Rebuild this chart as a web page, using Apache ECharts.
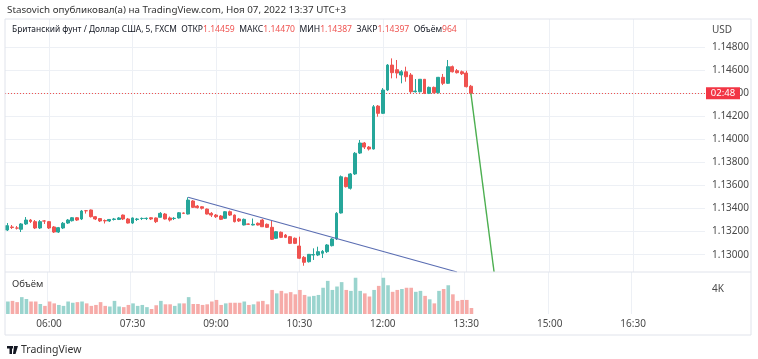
<!DOCTYPE html>
<html><head><meta charset="utf-8">
<script src="https://cdn.jsdelivr.net/npm/echarts@6/dist/echarts.min.js"></script>
<style>html,body{margin:0;padding:0;background:#fff}#c{width:758px;height:359px}</style>
</head><body><div id="c"></div>
<script>
// ---- data ----
const startTime = '05:15';          // first 5-minute bar
const barCount = 151;               // bars that fit across the price pane
const timeTickLabels = ['06:00','07:30','09:00','10:30','12:00','13:30','15:00','16:30'];
const priceTicks = [1.130,1.132,1.134,1.136,1.138,1.140,1.142,1.144,1.146,1.148];
const volumeTicks = [4000];
const lastPrice = 1.14397;

const opens = [1.13214,1.13240,1.13231,1.13220,1.13266,1.13300,1.13286,1.13231,1.13292,1.13286,
1.13240,1.13196,1.13231,1.13274,1.13294,1.13320,1.13309,1.13381,1.13387,1.13329,
1.13313,1.13296,1.13292,1.13305,1.13305,1.13343,1.13309,1.13274,1.13305,1.13313,
1.13313,1.13320,1.13318,1.13324,1.13352,1.13318,1.13313,1.13318,1.13361,1.13352,
1.13465,1.13421,1.13415,1.13395,1.13358,1.13343,1.13335,1.13315,1.13372,1.13343,
1.13309,1.13257,1.13266,1.13257,1.13272,1.13300,1.13263,1.13237,1.13142,1.13194,
1.13170,1.13156,1.13142,1.13075,1.12977,1.12939,1.12997,1.12997,1.13012,1.13026,
1.13078,1.13136,1.13361,1.13667,1.13575,1.13699,1.13880,1.13967,1.13932,1.13915,
1.14287,1.14224,1.14426,1.14642,1.14602,1.14556,1.14584,1.14556,1.14411,1.14411,
1.14519,1.14397,1.14449,1.14403,1.14536,1.14484,1.14628,1.14593,1.14584,1.14573,
1.14459];
const closes = [1.13251,1.13235,1.13230,1.13266,1.13300,1.13287,1.13231,1.13286,1.13291,1.13231,
1.13196,1.13234,1.13272,1.13300,1.13320,1.13300,1.13378,1.13380,1.13329,1.13309,
1.13292,1.13292,1.13305,1.13309,1.13318,1.13309,1.13274,1.13318,1.13309,1.13314,
1.13315,1.13309,1.13286,1.13358,1.13309,1.13300,1.13315,1.13363,1.13358,1.13473,
1.13410,1.13407,1.13402,1.13352,1.13343,1.13329,1.13306,1.13372,1.13343,1.13286,
1.13292,1.13306,1.13263,1.13263,1.13257,1.13242,1.13237,1.13133,1.13199,1.13150,
1.13150,1.13098,1.13098,1.12969,1.12934,1.13003,1.13001,1.13026,1.13029,1.13084,
1.13136,1.13358,1.13675,1.13589,1.13699,1.13878,1.13967,1.13932,1.13915,1.14281,
1.14224,1.14426,1.14642,1.14576,1.14573,1.14584,1.14541,1.14411,1.14417,1.14519,
1.14397,1.14449,1.14403,1.14536,1.14484,1.14628,1.14584,1.14576,1.14567,1.14455,
1.14397];
const lows = [1.13205,1.13222,1.13218,1.13196,1.13257,1.13274,1.13222,1.13222,1.13266,1.13222,
1.13188,1.13188,1.13222,1.13266,1.13287,1.13292,1.13300,1.13356,1.13322,1.13300,
1.13283,1.13270,1.13283,1.13296,1.13300,1.13300,1.13270,1.13266,1.13292,1.13300,
1.13300,1.13300,1.13274,1.13322,1.13305,1.13287,1.13300,1.13313,1.13352,1.13348,
1.13404,1.13400,1.13391,1.13348,1.13326,1.13318,1.13300,1.13309,1.13335,1.13279,
1.13283,1.13253,1.13257,1.13253,1.13253,1.13240,1.13231,1.13127,1.13136,1.13144,
1.13144,1.13092,1.13092,1.12962,1.12904,1.12932,1.12954,1.12988,1.12971,1.13014,
1.13071,1.13127,1.13356,1.13582,1.13564,1.13690,1.13872,1.13915,1.13902,1.13911,
1.14195,1.14218,1.14417,1.14527,1.14527,1.14484,1.14498,1.14400,1.14404,1.14404,
1.14391,1.14391,1.14396,1.14396,1.14469,1.14478,1.14578,1.14569,1.14556,1.14448,
1.14387];
const highs = [1.13274,1.13257,1.13248,1.13274,1.13326,1.13309,1.13300,1.13300,1.13300,1.13292,
1.13248,1.13240,1.13283,1.13309,1.13326,1.13326,1.13387,1.13387,1.13391,1.13335,
1.13318,1.13305,1.13309,1.13318,1.13326,1.13348,1.13318,1.13322,1.13318,1.13322,
1.13322,1.13326,1.13322,1.13369,1.13361,1.13330,1.13326,1.13369,1.13365,1.13497,
1.13473,1.13430,1.13421,1.13400,1.13369,1.13352,1.13343,1.13378,1.13382,1.13348,
1.13318,1.13313,1.13270,1.13313,1.13279,1.13309,1.13270,1.13294,1.13205,1.13201,
1.13179,1.13162,1.13149,1.13156,1.12988,1.13006,1.13055,1.13069,1.13040,1.13092,
1.13144,1.13369,1.13686,1.13675,1.13707,1.13889,1.13993,1.13976,1.13941,1.14296,
1.14296,1.14443,1.14651,1.14700,1.14686,1.14599,1.14628,1.14573,1.14521,1.14521,
1.14521,1.14456,1.14456,1.14539,1.14565,1.14686,1.14638,1.14608,1.14595,1.14593,
1.14470];
const volumes = [2000,2100,1900,2700,2400,2000,2000,1600,1300,2000,
1700,1450,1300,2000,1800,1900,2000,1700,1300,1450,
1900,1300,1200,2100,1200,1100,1450,1700,1300,1450,
1100,800,1400,2100,1550,1550,1300,1700,1700,2700,
1600,1600,1450,1550,2000,2250,1450,1700,1800,1800,
1800,2000,1450,1550,2000,2100,1550,3850,3300,3700,
3300,3500,3150,3850,3050,2800,2900,3050,4200,5300,
3850,4400,5100,3850,3700,5800,3700,3300,2800,3850,
4500,5800,4600,3550,3850,4000,4200,4200,3550,3700,
2900,2350,1700,3700,4000,4600,3150,2100,2250,2250,
964];
// drawn trend lines: [bar index, price]
const trendBlue = [[39,1.13497],[97,1.12850]];
const trendGreen = [[100,1.14397],[105,1.12850]];

// ---- build ----
const categories = [];
{
  let [h,m] = startTime.split(':').map(Number);
  let t = h*60+m;
  for (let i=0;i<barCount;i++){
    const hh = Math.floor(t/60)%24, mm = t%60;
    categories.push(String(hh).padStart(2,'0')+':'+String(mm).padStart(2,'0'));
    t += 5;
  }
}
const UP='#26a69a', DOWN='#ef5350';
const candleData = opens.map((o,i)=>[o, closes[i], lows[i], highs[i]]);
const volData = volumes.map((v,i)=>({value:v, itemStyle:{color: closes[i]>=opens[i] ? '#9ad4ce' : '#f6aba8'}}));
const showTick = (idx)=> timeTickLabels.indexOf(categories[idx])>=0;

const chart = echarts.init(document.getElementById('c'), null, {renderer:'canvas'});
const font = '"Noto Sans", "DejaVu Sans", sans-serif';
const gridLineColor = '#edf0f5';

const option = {
  animation:false,
  backgroundColor:'#ffffff',
  textStyle:{fontFamily:font},
  grid:[
    {left:5, right:53, top:19, height:253},
    {left:5, right:53, top:272, height:42}
  ],
  xAxis:[
    {type:'category', gridIndex:0, data:categories, boundaryGap:true,
     axisLine:{show:false}, axisTick:{show:false}, axisLabel:{show:false}, splitLine:{show:false}},
    {type:'category', gridIndex:1, data:categories, boundaryGap:true,
     axisLine:{show:false}, axisTick:{show:false}, splitLine:{show:false},
     axisLabel:{interval:(idx)=>showTick(idx), color:'#4a4a4a', fontSize:10, margin:5, fontFamily:font}}
  ],
  yAxis:[
    {type:'value', gridIndex:0, position:'right', min:1.12850, max:1.15041,
     axisLine:{show:false}, axisTick:{show:false, customValues:priceTicks},
     axisLabel:{customValues:priceTicks, formatter:(v)=>v.toFixed(5), color:'#4a4a4a', fontSize:10, margin:7, fontFamily:font},
     splitLine:{show:false}},
    {type:'value', gridIndex:1, position:'right', min:0, max:6720,
     axisLine:{show:false}, axisTick:{show:false, customValues:volumeTicks},
     axisLabel:{customValues:volumeTicks, formatter:(v)=>(v/1000)+'K', color:'#4a4a4a', fontSize:10, margin:7, fontFamily:font},
     splitLine:{show:false}}
  ],
  series:[
    {type:'line', xAxisIndex:0, yAxisIndex:0, data:[], z:0, silent:true,
     markLine:{silent:true, symbol:'none', label:{show:false}, animation:false, precision:5, z:0,
       lineStyle:{color:gridLineColor, width:1, type:'solid'},
       data: timeTickLabels.map(t=>({xAxis:t})).concat(priceTicks.map(p=>({yAxis:p})))}},
    {type:'bar', xAxisIndex:1, yAxisIndex:1, data:[], z:0, silent:true,
     markLine:{silent:true, symbol:'none', label:{show:false}, animation:false, z:0,
       lineStyle:{color:gridLineColor, width:1, type:'solid'},
       data: timeTickLabels.map(t=>({xAxis:t}))}},
    {type:'candlestick', xAxisIndex:0, yAxisIndex:0, data:candleData, barWidth:3.4, z:3,
     itemStyle:{color:UP, color0:DOWN, borderColor:UP, borderColor0:DOWN, borderWidth:1},
     markLine:{silent:true, symbol:'none', label:{show:false}, animation:false, precision:5, z:2,
       lineStyle:{color:'#ef5350', width:1, type:[1,2]},
       data:[{yAxis:lastPrice}]}},
    {type:'line', xAxisIndex:0, yAxisIndex:0, data:trendBlue, symbol:'none', z:6,
     lineStyle:{color:'#5a6db2', width:1.2}},
    {type:'line', xAxisIndex:0, yAxisIndex:0, data:trendGreen, symbol:'none', z:6,
     lineStyle:{color:'#4caf50', width:1.4}},
    {type:'bar', xAxisIndex:1, yAxisIndex:1, data:volData, barWidth:3.6, z:2}
  ]
};
chart.setOption(option);

const lastY = chart.convertToPixel({yAxisIndex:0}, lastPrice);
const red = '#ef5350', dark = '#131722';
const lfs = 8.6;
chart.setOption({graphic:[
  {type:'rect', shape:{x:5, y:19, width:746, height:316}, style:{fill:'none', stroke:'#e0e3eb', lineWidth:1}, z:100},
  {type:'line', shape:{x1:5, y1:272, x2:751, y2:272}, style:{stroke:'#e0e3eb', lineWidth:1}, z:100},
  {type:'text', x:7, y:10, style:{text:'Stasovich опубликовал(а) на TradingView.com, Ноя 07, 2022 13:37 UTC+3', fill:'#333', fontSize:9.8, fontFamily:font, verticalAlign:'middle'}},
  {type:'text', x:12, y:30, style:{
    text:'{t|Британский фунт / Доллар США, 5, FXCM}{a|  ОТКР}{b|1.14459}{a|  МАКС}{b|1.14470}{a|  МИН}{b|1.14387}{a|  ЗАКР}{b|1.14397}{a|  Объём}{b|964}',
    rich:{t:{fill:dark, fontSize:8.4, fontFamily:font}, a:{fill:dark, fontSize:lfs, fontFamily:font}, b:{fill:red, fontSize:lfs, fontFamily:font}},
    verticalAlign:'middle'}},
  {type:'text', x:712, y:30, style:{text:'USD', fill:'#4a4a4a', fontSize:10, fontFamily:font, verticalAlign:'middle'}},
  {type:'text', x:12, y:284, style:{text:'Объём', fill:'#333', fontSize:9.5, fontFamily:font, verticalAlign:'middle'}},
  {type:'rect', shape:{x:706, y:lastY-6, width:34, height:12}, style:{fill:'#f23645'}, z:101},
  {type:'text', x:723, y:lastY, style:{text:'02:48', fill:'#fff', fontSize:9.5, fontFamily:font, align:'center', verticalAlign:'middle'}, z:102},
  // TradingView logo
  {type:'rect', shape:{x:7, y:346, width:6, height:2.5}, style:{fill:'#131722'}},
  {type:'rect', shape:{x:9.5, y:346, width:2.5, height:8}, style:{fill:'#131722'}},
  {type:'polygon', shape:{points:[[14,346],[18,346],[15.5,354],[13,354]]}, style:{fill:'#131722'}},
  {type:'text', x:21, y:350, style:{text:'TradingView', fill:'#333', fontSize:10.5, fontFamily:font, verticalAlign:'middle'}}
]});
</script></body></html>
